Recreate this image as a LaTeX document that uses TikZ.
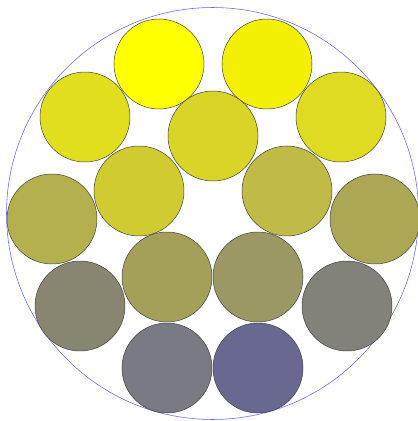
\documentclass[tikz,border=0pt]{standalone}
\usepackage{tikz}
\usepackage{xcolor}

\definecolor{c1}{RGB}{255,255,0}
\definecolor{c2}{RGB}{243,240,5}
\definecolor{c3}{RGB}{225,222,30}
\definecolor{c4}{RGB}{216,212,40}
\definecolor{c5}{RGB}{222,219,34}
\definecolor{c6}{RGB}{208,203,48}
\definecolor{c7}{RGB}{192,186,70}
\definecolor{c8}{RGB}{181,176,78}
\definecolor{c9}{RGB}{172,167,85}
\definecolor{c10}{RGB}{164,160,90}
\definecolor{c11}{RGB}{156,152,101}
\definecolor{c12}{RGB}{136,134,112}
\definecolor{c13}{RGB}{130,129,122}
\definecolor{c14}{RGB}{122,122,133}
\definecolor{c15}{RGB}{104,104,144}

\begin{document}
\begin{tikzpicture}[x=0.05cm, y=-0.05cm,
    ball/.style={draw=black!75, line width=0.7pt, circle, inner sep=0pt, minimum size=4.5cm},
    rim/.style={draw=blue!60, line width=0.8pt, circle, inner sep=0pt, minimum size=20.6cm}]
    \useasboundingbox (0,0) rectangle (417,421);
    % Enclosing circle
    \node[rim] (rim) at (212.5,213.5) {};

    % Packed circles, top to bottom
    \node[ball, fill=c1] (b1) at (159,64) {};
    \node[ball, fill=c2] (b2) at (267,64) {};
    \node[ball, fill=c3] (b3) at (85,117) {};
    \node[ball, fill=c4] (b4) at (213,136) {};
    \node[ball, fill=c5] (b5) at (341,117) {};
    \node[ball, fill=c6] (b6) at (139,191) {};
    \node[ball, fill=c7] (b7) at (287,191) {};
    \node[ball, fill=c8] (b8) at (52,219) {};
    \node[ball, fill=c9] (b9) at (375,219) {};
    \node[ball, fill=c10] (b10) at (167,277) {};
    \node[ball, fill=c11] (b11) at (258,277) {};
    \node[ball, fill=c12] (b12) at (80,306) {};
    \node[ball, fill=c13] (b13) at (347,306) {};
    \node[ball, fill=c14] (b14) at (167,368) {};
    \node[ball, fill=c15] (b15) at (258,368) {};
\end{tikzpicture}
\end{document}
